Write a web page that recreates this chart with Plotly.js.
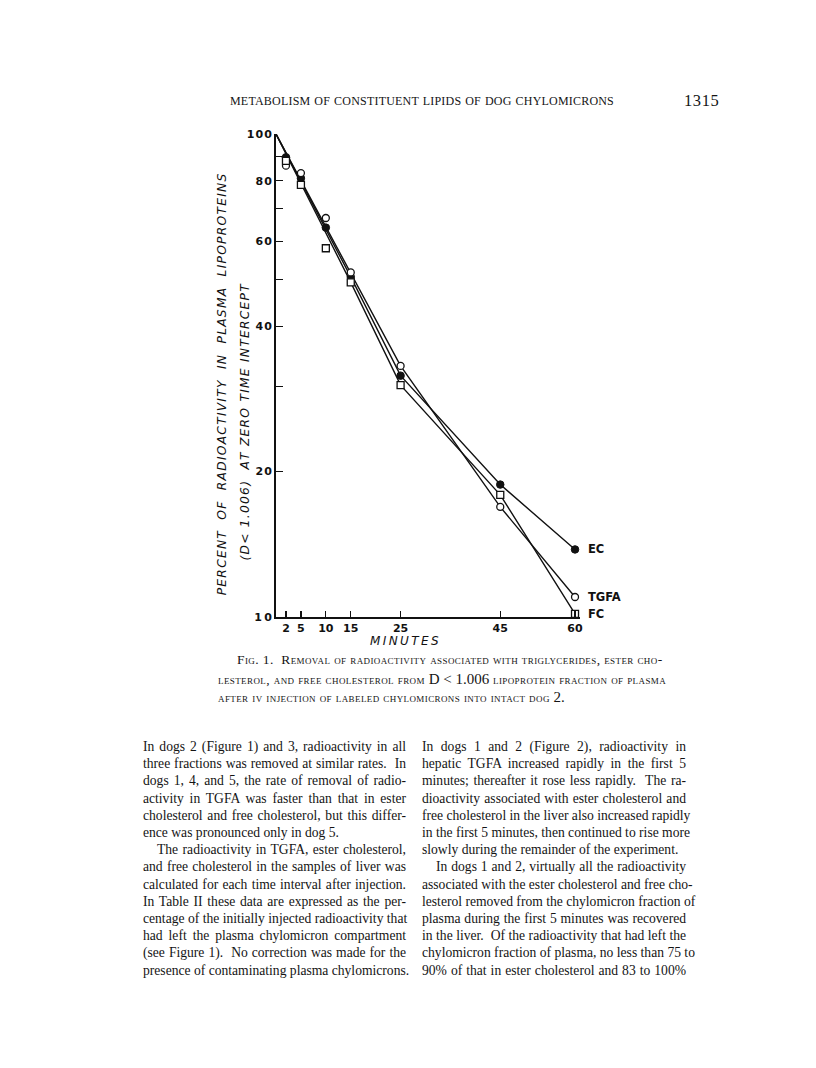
<!DOCTYPE html>
<html>
<head>
<meta charset="utf-8">
<script src="https://cdn.plot.ly/plotly-3.0.1.min.js"></script>
<style>
  html, body { margin:0; padding:0; background:#fff; }
  body { width:816px; height:1068px; position:relative; overflow:hidden;
         font-family:"Liberation Serif", "DejaVu Serif", serif; color:#141414; }
  #chart { position:absolute; left:0; top:0; width:816px; height:720px; }
  .txt { position:absolute; white-space:nowrap; }
  .head { font-size:12px; letter-spacing:0.2px; text-align:justify; text-align-last:justify; }
  .cap { font-size:13.5px; font-variant:small-caps; letter-spacing:0.4px;
         text-align:justify; text-align-last:justify; }
  .cap .n { font-variant:normal; font-size:15px; letter-spacing:0; }
  .body { font-size:13.6px; line-height:17px; text-align:justify; text-align-last:justify; }
  .body.end { text-align:left; text-align-last:left; }
</style>
</head>
<body>
<div id="chart"></div>

<div class="txt head" style="left:230px; top:94px; width:384px;">METABOLISM OF CONSTITUENT LIPIDS OF DOG CHYLOMICRONS</div>
<div class="txt" style="left:684px; top:91px; font-size:16.5px; letter-spacing:0.6px;">1315</div>

<div class="txt cap" style="left:237px; top:652px; width:393px;">Fig. 1.&nbsp; Removal of radioactivity associated with triglycerides, ester cho-</div>
<div class="txt cap" style="left:218px; top:671px; width:414px;">lesterol, and free cholesterol from <span class="n">D &lt; 1.006</span> lipoprotein fraction of plasma</div>
<div class="txt cap" style="left:218px; top:689px; text-align:left; text-align-last:left;">after iv injection of labeled chylomicrons into intact dog <span class="n">2.</span></div>

<script>
// chart values (percent of zero-time intercept)
const minutes = [2, 5, 10, 15, 25, 45, 60];
const ecVals = [89.5, 81, 64, 50.6, 31.6, 18.8, 13.8];
const tgfaVals = [86, 83, 67, 51.7, 33.1, 16.9, 11.0];
const fcVals = [88, 78.5, 58, 49.3, 30.2, 17.9, 10.15];
const seriesNames = ["EC", "TGFA", "FC"];
const intercept = 100;      // zero-time intercept
const fitFrom = 15;         // straight line from t=0 to this point, then point to point

const xTickVals = [2, 5, 10, 15, 25, 45, 60];
const xTickText = ["2", "5", "10", "15", "25", "45", "60"];
const yTickVals = [10, 20, 30, 40, 50, 60, 70, 80, 90, 100];
const yTickText = ["1\u20090", "2\u200a0", "", "4\u200a0", "", "6\u200a0", "", "8\u200a0", "", "1\u200a0\u200a0"];

// body text, one entry per printed line
const leftLines = [
  "In dogs 2 (Figure 1) and 3, radioactivity in all",
  "three fractions was removed at similar rates.\u00a0 In",
  "dogs 1, 4, and 5, the rate of removal of radio-",
  "activity in TGFA was faster than that in ester",
  "cholesterol and free cholesterol, but this differ-",
  "ence was pronounced only in dog 5.",
  "The radioactivity in TGFA, ester cholesterol,",
  "and free cholesterol in the samples of liver was",
  "calculated for each time interval after injection.",
  "In Table II these data are expressed as the per-",
  "centage of the initially injected radioactivity that",
  "had left the plasma chylomicron compartment",
  "(see Figure 1).\u00a0 No correction was made for the",
  "presence of contaminating plasma chylomicrons."
];
const rightLines = [
  "In dogs 1 and 2 (Figure 2), radioactivity in",
  "hepatic TGFA increased rapidly in the first 5",
  "minutes; thereafter it rose less rapidly.\u00a0 The ra-",
  "dioactivity associated with ester cholesterol and",
  "free cholesterol in the liver also increased rapidly",
  "in the first 5 minutes, then continued to rise more",
  "slowly during the remainder of the experiment.",
  "In dogs 1 and 2, virtually all the radioactivity",
  "associated with the ester cholesterol and free cho-",
  "lesterol removed from the chylomicron fraction of",
  "plasma during the first 5 minutes was recovered",
  "in the liver.\u00a0 Of the radioactivity that had left the",
  "chylomicron fraction of plasma, no less than 75 to",
  "90% of that in ester cholesterol and 83 to 100%"
];
const leftIndent = [6];      // paragraph starts
const leftEnds = [5];        // paragraph ends (not justified)
const rightIndent = [7];
const rightEnds = [6];

function placeColumn(lines, x, w, indents, ends){
  const top0 = 738, step = 17.2;
  lines.forEach((t, i) => {
    const d = document.createElement("div");
    d.className = "txt body" + (ends.includes(i) ? " end" : "");
    const ind = indents.includes(i) ? 14 : 0;
    d.style.left = (x + ind) + "px";
    d.style.top = (top0 + i*step) + "px";
    d.style.width = (w - ind) + "px";
    d.textContent = t;
    document.body.appendChild(d);
  });
}
placeColumn(leftLines, 143, 263, leftIndent, leftEnds);
placeColumn(rightLines, 422, 264, rightIndent, rightEnds);

// letter-spaced title text for the rotated axis label
const spaced = s => Array.from(s).join("\u200a");

// ---- chart ----
const series = [
  {name: seriesNames[0], y: ecVals,   marker: {symbol: "circle", size: 7.5, color: "#111", line: {color: "#111", width: 1}}},
  {name: seriesNames[1], y: tgfaVals, marker: {symbol: "circle", size: 7,   color: "#fff", line: {color: "#111", width: 1.3}}},
  {name: seriesNames[2], y: fcVals,   marker: {symbol: "square", size: 7,   color: "#fff", line: {color: "#111", width: 1.3}}}
];

const traces = [];
// connecting lines first so the open markers sit on top of them
for(const s of series){
  const keep = minutes.map((m, i) => m >= fitFrom ? i : -1).filter(i => i >= 0);
  traces.push({
    x: [0].concat(keep.map(i => minutes[i])),
    y: [intercept].concat(keep.map(i => s.y[i])),
    mode: "lines",
    line: {color: "#111", width: 1.4},
    hoverinfo: "skip",
    showlegend: false
  });
}
for(const s of series){
  traces.push({
    x: minutes,
    y: s.y,
    mode: "markers",
    name: s.name,
    marker: s.marker,
    cliponaxis: false,
    showlegend: false
  });
}

const tickFont = {family: "DejaVu Sans", size: 11, color: "#111", weight: "bold"};
const titleFont = {family: "DejaVu Sans", size: 12.3, color: "#111", style: "italic"};

const endLabels = series.map(s => ({
  text: s.name,
  x: minutes[minutes.length-1],
  y: Math.log10(s.y[s.y.length-1]),
  xref: "x", yref: "y",
  xanchor: "left", yanchor: "middle",
  xshift: 11,
  showarrow: false,
  font: {family: "DejaVu Sans", size: 11.5, color: "#111", weight: "bold"}
}));

const layout = {
  width: 816, height: 720,
  paper_bgcolor: "rgba(0,0,0,0)",
  plot_bgcolor: "rgba(0,0,0,0)",
  margin: {l: 276, r: 236, t: 134, b: 103},
  showlegend: false,
  xaxis: {
    range: [0, 61],
    showgrid: false, zeroline: false,
    showline: true, linecolor: "#111", linewidth: 1.6,
    ticks: "inside", ticklen: 6, tickwidth: 1.2, tickcolor: "#111",
    tickvals: xTickVals, ticktext: xTickText,
    tickfont: tickFont
  },
  yaxis: {
    type: "log",
    range: [1, 2],
    showgrid: false, zeroline: false,
    showline: true, linecolor: "#111", linewidth: 2,
    ticks: "inside", ticklen: 7, tickwidth: 1.2, tickcolor: "#111",
    tickvals: yTickVals, ticktext: yTickText,
    tickfont: tickFont
  },
  annotations: endLabels.concat([
    {text: spaced("PERCENT  OF  RADIOACTIVITY  IN  PLASMA  LIPOPROTEINS").replace(/ /g, "\u00a0"),
     xref: "paper", yref: "paper", x: -0.207, y: 0.482, textangle: -90,
     showarrow: false, font: titleFont},
    {text: spaced("(D< 1.006)  AT ZERO TIME INTERCEPT").replace(/ /g, "\u00a0"),
     xref: "paper", yref: "paper", x: -0.131, y: 0.405, textangle: -90,
     showarrow: false, font: titleFont},
    {text: "M\u2009I\u2009N\u2009U\u2009T\u2009E\u2009S",
     xref: "paper", yref: "paper", x: 0.424, y: -0.05, yanchor: "middle",
     showarrow: false, font: {family: "DejaVu Sans", size: 12, color: "#111", style: "italic"}}
  ])
};

Plotly.newPlot("chart", traces, layout, {displayModeBar: false, staticPlot: true});
</script>
</body>
</html>
